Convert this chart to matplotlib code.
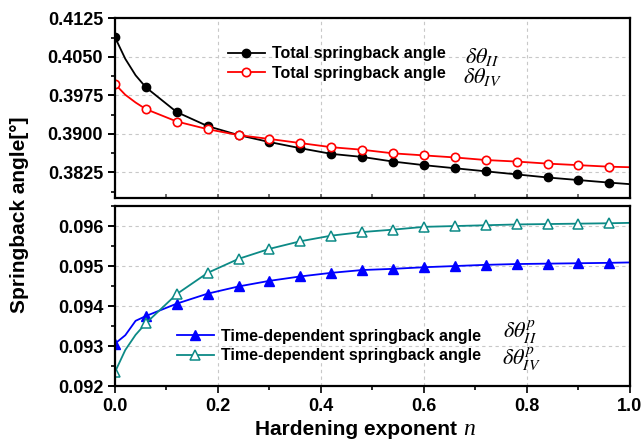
#springback angle vs hardening exponent, two stacked panels

import numpy as np
import matplotlib
matplotlib.use('Agg')
import matplotlib.pyplot as plt
from matplotlib.ticker import MultipleLocator

plt.rcParams['font.family'] = ['Liberation Sans', 'DejaVu Sans']
plt.rcParams['mathtext.fontset'] = 'stix'

#exponent n (markers every 0.06, extra points at start only on the line)
n = [0, 0.02, 0.04, 0.06, 0.12, 0.18, 0.24, 0.30, 0.36, 0.42, 0.48, 0.54,
     0.60, 0.66, 0.72, 0.78, 0.84, 0.90, 0.96, 1.0]
marks = [0] + list(range(3, 19))

#total springback angle
tot_II = [0.4088, 0.4046, 0.4014, 0.39905, 0.39423, 0.3915, 0.38975, 0.3884,
          0.3872, 0.3861, 0.3855, 0.3846, 0.3839, 0.3833, 0.3827, 0.3821,
          0.3815, 0.3810, 0.3805, 0.3802]
tot_IV = [0.39969, 0.3976, 0.3961, 0.39481, 0.3924, 0.3909, 0.38975, 0.3890,
          0.3882, 0.3874, 0.3869, 0.3862, 0.3858, 0.3854, 0.3849, 0.3846,
          0.3842, 0.3839, 0.3836, 0.3835]

#time-dependent springback angle
td_II = [0.09306, 0.09327, 0.09363, 0.09375, 0.09406, 0.09431, 0.09449,
         0.09463, 0.09474, 0.09483, 0.0949, 0.09493, 0.09497, 0.0950,
         0.09503, 0.09505, 0.09506, 0.09507, 0.09508, 0.09509]
td_IV = [0.09235, 0.0929, 0.09328, 0.09357, 0.0943, 0.09483, 0.09518,
         0.09543, 0.09562, 0.09576, 0.09585, 0.09591, 0.09598, 0.0960,
         0.09602, 0.09604, 0.09605, 0.09606, 0.09607, 0.09608]

teal = '#0c8a86'

fig = plt.figure(figsize=(6.41, 4.46), dpi=100)
ax1 = fig.add_axes([0.1794, 0.556, 0.8034, 0.403])
ax2 = fig.add_axes([0.1794, 0.1345, 0.8034, 0.4035])

ax1.plot(n, tot_II, '-o', color='black', lw=1.3, ms=6, markevery=marks,
         label='Total springback angle')
ax1.plot(n, tot_IV, '-o', color='red', lw=1.3, ms=6, mfc='white', mew=1.2,
         markevery=marks, label='Total springback angle')
ax1.set_ylim(0.3775, 0.4125)
ax1.yaxis.set_minor_locator(MultipleLocator(0.00375))
ax1.set_yticks([0.3825, 0.39, 0.3975, 0.405, 0.4125])
ax1.set_yticklabels(['0.3825', '0.3900', '0.3975', '0.4050', '0.4125'])

ax2.plot(n, td_II, '-^', color='blue', lw=1.3, ms=7, markevery=marks,
         label='Time-dependent springback angle')
ax2.plot(n, td_IV, '-^', color=teal, lw=1.3, ms=7, mfc='white', mew=1.1,
         markevery=marks, label='Time-dependent springback angle')
ax2.set_ylim(0.092, 0.0965)
ax2.yaxis.set_major_locator(MultipleLocator(0.001))
ax2.yaxis.set_minor_locator(MultipleLocator(0.0005))
ax2.yaxis.set_major_formatter(plt.FormatStrFormatter('%.3f'))

for ax in (ax1, ax2):
    ax.set_xlim(0, 1.0)
    ax.xaxis.set_major_locator(MultipleLocator(0.2))
    ax.xaxis.set_minor_locator(MultipleLocator(0.1))
    ax.grid(True, which='major', ls=(0, (3, 3)), color='#c8c8c8', lw=0.8)
    for s in ax.spines.values():
        s.set_linewidth(1.6)
    ax.tick_params(axis='y', which='major', direction='out', length=5, width=1.4,
                   labelsize=13)
    ax.tick_params(axis='y', which='minor', direction='out', length=3, width=1.2)
    ax.tick_params(axis='x', which='both', direction='out', width=1.2)
    ax.tick_params(axis='x', which='major', length=5, labelsize=13)
    ax.tick_params(axis='x', which='minor', length=3)
    for lbl in ax.get_xticklabels() + ax.get_yticklabels():
        lbl.set_fontweight('bold')

ax1.tick_params(axis='x', which='both', direction='in', labelbottom=False,
                color='#555555', length=3)

ax1.legend(loc='center left', bbox_to_anchor=(0.219, 0.748), frameon=False,
           prop={'size': 11.5, 'weight': 'bold'}, handlelength=2.3,
           handletextpad=0.45, labelspacing=0.3, borderpad=0, borderaxespad=0)
ax2.legend(loc='center left', bbox_to_anchor=(0.12, 0.222), frameon=False,
           prop={'size': 11.5, 'weight': 'bold'}, handlelength=2.3,
           handletextpad=0.45, labelspacing=0.3, borderpad=0, borderaxespad=0)

sym = dict(fontsize=16, va='center')
ax1.text(0.68, 0.40495, r'$\delta\theta_{II}$', **sym)
ax1.text(0.676, 0.40110, r'$\delta\theta_{IV}$', **sym)
ax2.text(0.753, 0.09335, r'$\delta\theta_{II}^{p}$', **sym)
ax2.text(0.751, 0.09268, r'$\delta\theta_{IV}^{p}$', **sym)

fig.text(0.031, 0.518, 'Springback angle[°]', rotation=90, fontsize=15,
         fontweight='bold', ha='center', va='center')
fig.text(0.713, 0.036, 'Hardening exponent', fontsize=15,
         fontweight='bold', ha='right', va='center')
fig.text(0.722, 0.036, 'n', fontsize=17, family='Liberation Serif',
         style='italic', ha='left', va='center')

fig.savefig('out.png', dpi=100)
